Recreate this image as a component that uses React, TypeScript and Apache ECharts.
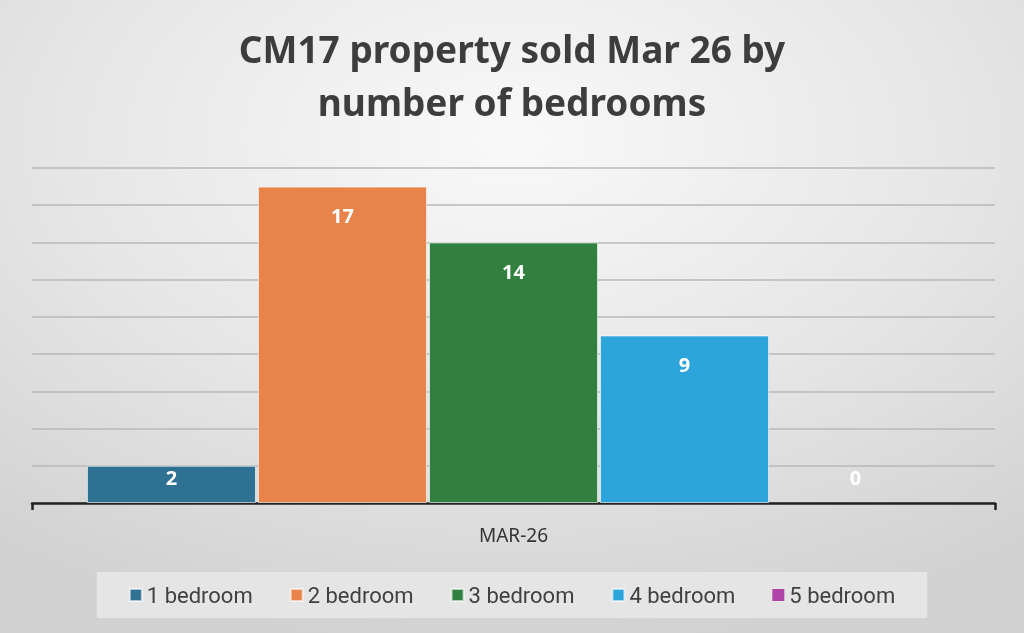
import React, { useEffect, useRef } from "react";
import * as echarts from "echarts";

const titleText = "CM17 property sold Mar 26 by\nnumber of bedrooms";
const categories = ["MAR-26"];
const seriesNames = ["1 bedroom", "2 bedroom", "3 bedroom", "4 bedroom", "5 bedroom"];
const seriesValues = [2, 17, 14, 9, 0];
const seriesColors = ["#2E7192", "#E8834A", "#32803F", "#2EA5DA", "#B043A8"];
const yMin = 0;
const yMax = 18;
const yInterval = 2;

const FONT = "'Noto Sans', 'Open Sans', sans-serif";

export default function App() {
  const ref = useRef<HTMLDivElement>(null);

  useEffect(() => {
    if (!ref.current) return;
    const chart = echarts.init(ref.current, undefined, { renderer: "svg" });

    const series = seriesNames.map((name, i) => {
      const v = seriesValues[i];
      let label: any = {
        show: true,
        position: "insideTop",
        distance: 19,
        color: "#ffffff",
        fontFamily: FONT,
        fontWeight: "bold",
        fontSize: 20,
      };
      if (v === 0) {
        label = { ...label, position: "top", distance: 16 };
      } else if (v <= 2) {
        label = { ...label, distance: 2 };
      }
      return {
        name,
        type: "bar",
        barWidth: 169,
        barGap: "1.2%",
        itemStyle: {
          color: seriesColors[i],
          borderColor: "rgba(255,255,255,0.6)",
          borderWidth: v === 0 ? 0 : 1,
        },
        label,
        data: [v],
      };
    });

    chart.setOption({
      animation: false,
      backgroundColor: {
        type: "radial",
        x: 0.5,
        y: 0.22,
        r: 0.8,
        colorStops: [
          { offset: 0, color: "#f9f9f9" },
          { offset: 0.55, color: "#e6e6e6" },
          { offset: 1, color: "#d2d2d2" },
        ],
      },
      title: {
        text: titleText,
        left: "center",
        top: 17,
        textStyle: {
          fontFamily: FONT,
          fontWeight: "bold",
          fontSize: 37,
          lineHeight: 53,
          color: "#3d3d3d",
        },
      },
      legend: {
        bottom: 15,
        left: "center",
        icon: "rect",
        itemWidth: 12,
        itemHeight: 12,
        itemGap: 37,
        padding: [12, 32],
        backgroundColor: "#e5e5e5",
        textStyle: { fontFamily: "Roboto, sans-serif", fontSize: 22, color: "#404040" },
        data: seriesNames,
      },
      grid: { left: 32, right: 29, top: 168, bottom: 130 },
      xAxis: {
        type: "category",
        data: categories,
        axisLine: { show: true, lineStyle: { color: "#222222", width: 2.5 } },
        axisTick: { show: true, length: 7, lineStyle: { color: "#222222", width: 2.5 } },
        axisLabel: { margin: 22, fontFamily: FONT, fontSize: 19, color: "#333333" },
      },
      yAxis: {
        type: "value",
        min: yMin,
        max: yMax,
        interval: yInterval,
        axisLine: { show: false },
        axisTick: { show: false },
        axisLabel: { show: false },
        splitLine: { show: true, lineStyle: { color: "#b9b9b9", width: 1.5 } },
      },
      series,
    });

    return () => chart.dispose();
  }, []);

  return (
    <div
      ref={ref}
      style={{ position: "fixed", left: 0, top: 0, width: 1024, height: 633 }}
    />
  );
}
